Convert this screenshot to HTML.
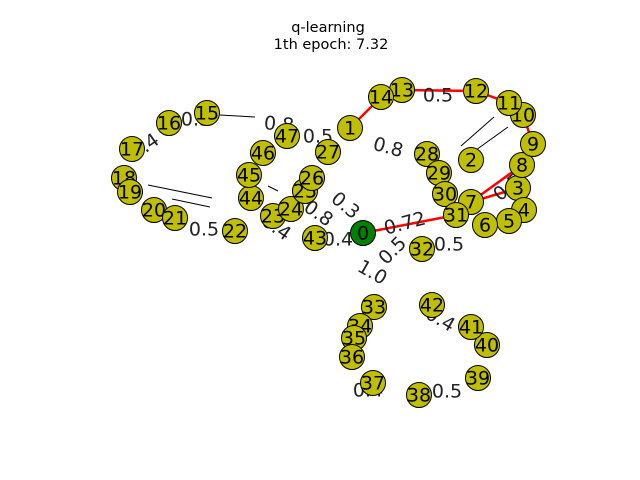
<!DOCTYPE html>
<html><head><meta charset="utf-8"><style>
html,body{margin:0;padding:0;background:#fff}
svg{display:block;font-family:"DejaVu Sans","Liberation Sans",sans-serif}
</style></head><body>
<svg id="chart" width="640" height="480" viewBox="0 0 640 480">
<text x="328" y="32" font-size="14.5" text-anchor="middle">q-learning</text>
<text x="331" y="49" font-size="14.5" text-anchor="middle">1th epoch: 7.32</text>
<g id="edges"></g><g id="elabels"></g><g id="nodes"></g>
</svg>
<script>
const nodeIds=[0,1,2,3,4,5,6,7,8,9,10,11,12,13,14,15,16,17,18,19,20,21,22,23,24,25,26,27,28,29,30,31,32,33,34,35,36,37,38,39,40,41,42,43,44,45,46,47];
const nodeX=[363,350,471,518,524,509,485,471,522,533,523,509,476,402,381,207,169,132,124,130,154,175,235,273,291,305,312,328,427,439,445,456,422,374,360,354,352,373,419,478,487,471,432,315,251,249,263,287];
const nodeY=[233,128,160,188,210,221,225,202,165,144,115,103,91,90,97,113,123,149,178,192,210,218,231,216,209,191,178,152,154,173,194,215,249,307,326,338,357,383,395,378,345,327,305,238,198,175,153,136];
const redEdges=[[0,31],[31,7],[7,3],[7,8],[8,9],[9,10],[10,11],[11,12],[12,13],[13,14],[14,1]];
const blackSegs=[[[220,115],[255,117]],[[148,185],[212,198]],[[172,199],[210,207]],[[461,146],[494,117]],[[476,150],[508,127]],[[268,186],[278,191]]];
const edgeLabels=["0.8","0.5","0.8","0.5","0.5","0.4","0.5","0.8","0.5","1.0","0.4","0.4","0.5","0.3","0.4","0.72","0.5","0.3","0.4"];
const labelX=[279,318,388,438,204,338,508,318,449,372,440,368,447,196,145,405,393,345,276];
const labelY=[125,137,148,96,230,240,188,214,245,273,320,391,392,120,147,224,251,206,228];
const labelRot=[5,0,15,0,0,0,-40,35,0,30,30,0,0,0,-35,-15,-45,40,35];
const ns="http://www.w3.org/2000/svg";
const E=document.getElementById('edges'),L=document.getElementById('elabels'),N=document.getElementById('nodes');
blackSegs.forEach(s=>{const l=document.createElementNS(ns,'line');


l.setAttribute('x1',s[0][0]);l.setAttribute('y1',s[0][1]);l.setAttribute('x2',s[1][0]);l.setAttribute('y2',s[1][1]);l.setAttribute('stroke','#000');l.setAttribute('stroke-width','1');E.appendChild(l);});
redEdges.forEach(e=>{const l=document.createElementNS(ns,'line');


l.setAttribute('x1',nodeX[e[0]]);l.setAttribute('y1',nodeY[e[0]]);l.setAttribute('x2',nodeX[e[1]]);l.setAttribute('y2',nodeY[e[1]]);l.setAttribute('stroke','#f00');l.setAttribute('stroke-width','2.5');E.appendChild(l);});
edgeLabels.forEach((t,i)=>{const x=document.createElementNS(ns,'text');


x.setAttribute('x',labelX[i]);x.setAttribute('y',labelY[i]);x.setAttribute('font-size','19');x.setAttribute('text-anchor','middle');x.setAttribute('dominant-baseline','middle');x.setAttribute('fill','#222');
x.setAttribute('transform','rotate('+labelRot[i]+' '+labelX[i]+' '+labelY[i]+')');x.textContent=t;L.appendChild(x);});
nodeIds.forEach((id,i)=>{const c=document.createElementNS(ns,'circle');


c.setAttribute('cx',nodeX[i]);c.setAttribute('cy',nodeY[i]);c.setAttribute('r','12.5');c.setAttribute('fill',id===0?'#008000':'#bfbf00');c.setAttribute('stroke','#000');c.setAttribute('stroke-width','1');N.appendChild(c);
const t=document.createElementNS(ns,'text');


t.setAttribute('x',nodeX[i]);t.setAttribute('y',nodeY[i]+1);t.setAttribute('font-size','19');t.setAttribute('text-anchor','middle');t.setAttribute('dominant-baseline','middle');t.textContent=id;N.appendChild(t);});
</script>
</body></html>
